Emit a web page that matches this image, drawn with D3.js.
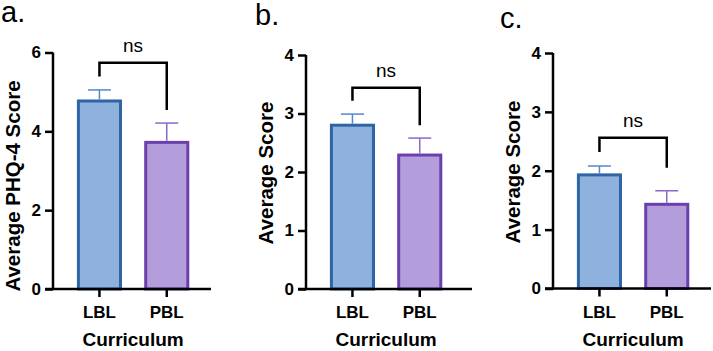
<!DOCTYPE html>
<html><head><meta charset="utf-8">
<script src="https://cdn.jsdelivr.net/npm/d3@7"></script>
<style>
body{margin:0;background:#fff;}
svg{display:block;font-family:"Liberation Sans",Arial,Helvetica,sans-serif;}
</style></head>
<body><svg id="c" width="713" height="351"></svg>
<script>
// ---- data ----
const categories = ["LBL", "PBL"];
const panelLabels = ["a.", "b.", "c."];
const yTitles = ["Average PHQ-4 Score", "Average Score", "Average Score"];
const xTitle = "Curriculum";
const means_a = [4.77, 3.72];
const errs_a  = [0.28, 0.49];
const means_b = [2.80, 2.29];
const errs_b  = [0.19, 0.29];
const means_c = [1.93, 1.43];
const errs_c  = [0.15, 0.23];
const yMax = [6, 4, 4];
const yTicks_a = [0, 2, 4, 6];
const yTicks_b = [0, 1, 2, 3, 4];
const yTicks_c = [0, 1, 2, 3, 4];
// significance bracket: [top, left end, right end] in data units
const bracket_a = [5.74, 5.39, 4.54];
const bracket_b = [3.44, 3.22, 2.80];
const bracket_c = [2.56, 2.32, 2.05];
const sigLabel = "ns";

const fills = ["#8fb1de", "#b39ddb"];
const strokes = ["#2f64a5", "#6a40ad"];
const errColors = ["#5686c8", "#8a69cc"];

const panels = [
  {means: means_a, errs: errs_a, ticks: yTicks_a, br: bracket_a, ax: 53, right: 211, top: 52.5, bottom: 289, lx: 1, ly: 22, tyc: 186},
  {means: means_b, errs: errs_b, ticks: yTicks_b, br: bracket_b, ax: 306, right: 472, top: 55, bottom: 289, lx: 255, ly: 25, tyc: 173},
  {means: means_c, errs: errs_c, ticks: yTicks_c, br: bracket_c, ax: 553, right: 711, top: 53, bottom: 288.5, lx: 500, ly: 28, tyc: 172}
];

const svg = d3.select("#c");

panels.forEach((p, i) => {
  const g = svg.append("g");
  const y = d3.scaleLinear().domain([0, yMax[i]]).range([p.bottom, p.top]);
  const x = d3.scaleBand().domain(categories)
    .range([p.ax + 12.8, p.ax + 12.8 + 134.6])
    .paddingInner(0.33).paddingOuter(0.165);

  // bars
  g.selectAll("rect.bar").data(categories).enter().append("rect")
    .attr("x", d => x(d) + 1.5)
    .attr("width", x.bandwidth() - 3)
    .attr("y", (d, j) => y(p.means[j]))
    .attr("height", (d, j) => y(0) - y(p.means[j]))
    .attr("fill", (d, j) => fills[j])
    .attr("stroke", (d, j) => strokes[j])
    .attr("stroke-width", 3);

  // error bars (upper only)
  categories.forEach((d, j) => {
    const cx = x(d) + x.bandwidth() / 2;
    const yt = y(p.means[j] + p.errs[j]);
    g.append("line").attr("x1", cx).attr("x2", cx)
      .attr("y1", y(p.means[j]) - 1.5).attr("y2", yt)
      .attr("stroke", errColors[j]).attr("stroke-width", 1.5);
    g.append("line").attr("x1", cx - 11.5).attr("x2", cx + 11.5)
      .attr("y1", yt).attr("y2", yt)
      .attr("stroke", errColors[j]).attr("stroke-width", 1.5);
  });

  // y axis
  const yAxis = d3.axisLeft(y).tickValues(p.ticks).tickFormat(d3.format("d")).tickSize(8).tickPadding(4);
  const ya = g.append("g").attr("transform", `translate(${p.ax},0)`).call(yAxis);
  ya.select(".domain").attr("d", `M0,${p.bottom + 1}V${p.top}`).attr("stroke", "#000").attr("stroke-width", 2.5);
  ya.selectAll(".tick line").attr("stroke", "#000").attr("stroke-width", 2.5);
  ya.selectAll(".tick text").attr("fill", "#000").style("font-size", "17px").style("font-weight", "bold")
    .style("font-family", '"Liberation Sans",Arial,sans-serif');

  // x axis
  const xAxis = d3.axisBottom(x).tickSize(8).tickPadding(9);
  const xa = g.append("g").attr("transform", `translate(0,${p.bottom})`).call(xAxis);
  xa.select(".domain").attr("d", `M${p.ax - 8},0H${p.right}`).attr("stroke", "#000").attr("stroke-width", 2.5);
  xa.selectAll(".tick line").attr("stroke", "#000").attr("stroke-width", 2.5);
  xa.selectAll(".tick text").attr("fill", "#000").style("font-size", "17px").style("font-weight", "bold")
    .style("font-family", '"Liberation Sans",Arial,sans-serif');

  // bracket
  const c0 = x(categories[0]) + x.bandwidth() / 2;
  const c1 = x(categories[1]) + x.bandwidth() / 2;
  g.append("path")
    .attr("d", `M${c0},${y(p.br[1])}V${y(p.br[0])}H${c1}V${y(p.br[2])}`)
    .attr("fill", "none").attr("stroke", "#000").attr("stroke-width", 2.5);
  g.append("text").attr("x", (c0 + c1) / 2).attr("y", y(p.br[0]) - 11)
    .attr("text-anchor", "middle").style("font-size", "19px").text(sigLabel);

  // titles
  g.append("text").attr("transform", `translate(${p.ax - 33},${p.tyc}) rotate(-90)`)
    .attr("text-anchor", "middle").style("font-size", "20.5px").style("font-weight", "bold").text(yTitles[i]);
  g.append("text").attr("x", (c0 + c1) / 2).attr("y", 346)
    .attr("text-anchor", "middle").style("font-size", "19px").style("font-weight", "bold").text(xTitle);
  g.append("text").attr("x", p.lx).attr("y", p.ly)
    .style("font-size", "29px").text(panelLabels[i]);
});
</script></body></html>
